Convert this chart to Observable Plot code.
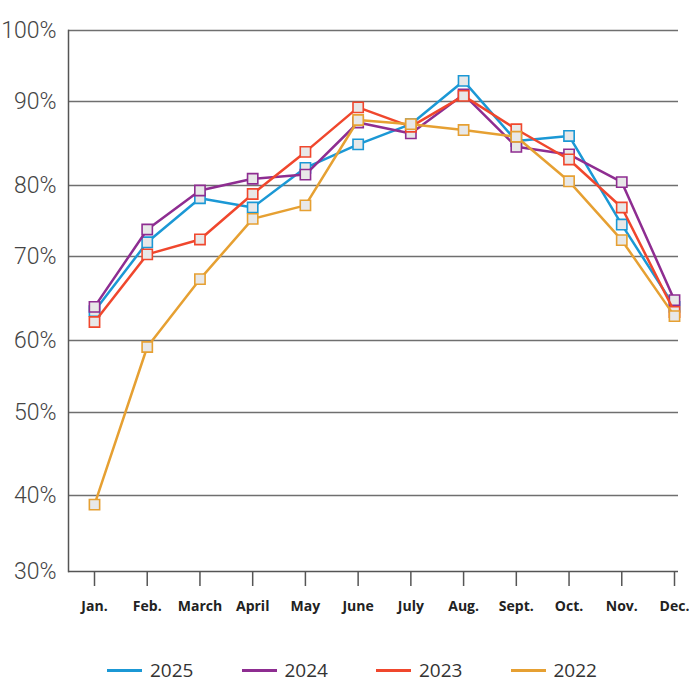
<!DOCTYPE html>
<html>
<head>
<meta charset="utf-8">
<script src="https://cdn.jsdelivr.net/npm/d3@7"></script>
<script src="https://cdn.jsdelivr.net/npm/@observablehq/plot@0.6"></script>
<style>
  html, body { margin: 0; padding: 0; background: #fff; }
  #chart svg { display: block; }
  #legend { position: relative; height: 26px; margin-top: 7px; font-family: "Open Sans", sans-serif; font-size: 19px; color: #333; }
  .item { position: absolute; top: 0; height: 26px; display: flex; align-items: center; }
  .swatch { width: 35px; height: 3px; margin-right: 8px; }
  .item span { line-height: 1; }
</style>
</head>
<body>
<div id="chart"></div>
<div id="legend"></div>
<script>
const months = ["Jan.", "Feb.", "March", "April", "May", "June", "July", "Aug.", "Sept.", "Oct.", "Nov.", "Dec."];
const years = ["2025", "2024", "2023", "2022"];
const colors = ["#1b98d5", "#8e2d91", "#f0472d", "#e6a032"];
const v2025 = [63.5, 72.0, 78.2, 76.9, 82.1, 84.9, 87.3, 92.9, 85.3, 85.9, 74.5, 64.0];
const v2024 = [64.0, 73.8, 79.3, 80.8, 81.3, 87.5, 86.2, 91.0, 84.6, 83.7, 80.4, 64.8];
const v2023 = [62.2, 70.3, 72.4, 78.8, 84.0, 89.3, 87.0, 90.8, 86.7, 83.1, 76.9, 63.4];
const v2022 = [38.8, 59.1, 67.3, 75.3, 77.2, 87.8, 87.3, 86.6, 85.8, 80.5, 72.3, 62.9];
const yTicks = [30, 40, 50, 60, 70, 80, 90, 100];

const seriesValues = [v2025, v2024, v2023, v2022];
const series = years.map((year, i) => ({
  year,
  color: colors[i],
  rows: months.map((m, j) => ({month: m, value: seriesValues[i][j], year}))
}));

const seriesMarks = series.flatMap(s => [
  Plot.line(s.rows, {x: "month", y: "value", stroke: s.color, strokeWidth: 2.5}),
  Plot.dot(s.rows, {x: "month", y: "value", symbol: "square", r: 5.8, fill: "#e8e8e8", stroke: s.color, strokeWidth: 1.6})
]);

const chart = Plot.plot({
  width: 689,
  height: 650,
  marginLeft: 68,
  marginRight: 11,
  marginTop: 30,
  marginBottom: 79,
  x: {type: "point", domain: months, padding: 0, insetLeft: 26, insetRight: 4, round: false},
  // the reference's gridlines are unevenly spaced; a piecewise scale follows them
  y: {type: "linear", domain: yTicks, range: [571, 495, 412, 340, 256, 185, 101, 30]},
  marks: [
    Plot.ruleY(yTicks.slice(1), {stroke: "#6f6f6f", strokeWidth: 1.5}),
    Plot.ruleY([30], {stroke: "#555", strokeWidth: 1.5}),
    Plot.frame({anchor: "left", stroke: "#555", strokeWidth: 1.5}),
    Plot.axisX({tickSize: 15, tickPadding: 15, fontSize: 14, fontWeight: "bold", fontFamily: "Open Sans", stroke: "#555", strokeWidth: 1.5, fill: "#222", label: null}),
    Plot.axisY({ticks: yTicks, tickSize: 0, tickPadding: 12, tickFormat: d => d + "%", fontSize: 23, fontFamily: "Roboto", fontWeight: 300, fill: "#444", label: null}),
    ...seriesMarks
  ]
});
document.getElementById("chart").appendChild(chart);

const legend = document.getElementById("legend");
years.forEach((y, i) => {
  const item = document.createElement("div");
  item.className = "item";
  item.style.left = (107 + i * 134.5) + "px";
  const sw = document.createElement("div");
  sw.className = "swatch";
  sw.style.background = colors[i];
  const t = document.createElement("span");
  t.textContent = y;
  item.appendChild(sw);
  item.appendChild(t);
  legend.appendChild(item);
});
</script>
</body>
</html>
